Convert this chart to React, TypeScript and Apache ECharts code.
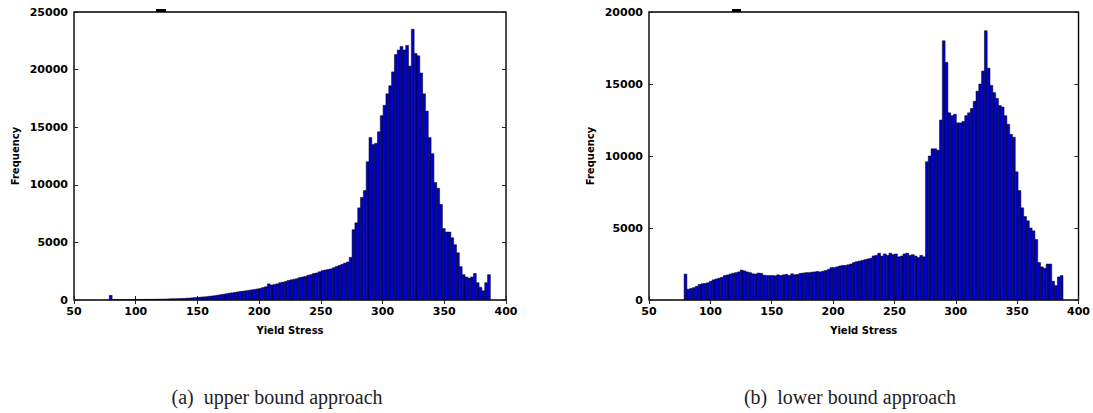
import React, { useEffect, useRef } from "react";
import * as echarts from "echarts";

// Histogram bins (Yield Stress), shared by both panels
const BIN_START = 78.6;
const BIN_WIDTH = 2.287;

// (a) upper bound approach — frequency per bin
const upperCounts: number[] = [
  400,
  30, 30, 35, 35, 40, 40, 40, 45, 45, 50, 50, 55, 55, 60, 60, 65, 70, 75, 80, 90,
  100, 110, 110, 120, 130, 140, 160, 170, 190, 210,
  220, 250, 270, 290, 320, 350, 380, 420, 460, 500,
  540, 590, 620, 660, 700, 740, 770, 800, 840, 880,
  920, 960, 1000, 1080, 1150, 1400, 1300, 1350, 1400, 1500,
  1550, 1600, 1700, 1750, 1800, 1850, 1950, 2000, 2050, 2150,
  2200, 2300, 2350, 2450, 2550, 2600, 2650, 2700, 2800, 2900,
  3000, 3100, 3200, 3300, 3700,
  6100, 6700, 8000, 8900, 9500, 12000, 14100, 13500, 13600, 14600, 16000, 16900, 17900, 18600, 19800, 21300, 21700, 22000, 21700, 22100, 20300,
  23500,
  21400, 21200, 19700, 17900, 16400, 14100, 12700, 10200, 9700, 8300, 6200, 5900, 5900, 5400, 4800, 4100, 2900, 2200, 2000, 1900, 2000, 2300, 1500, 1100, 800, 1500, 2200,
];

// (b) lower bound approach — frequency per bin
const lowerCounts: number[] = [
  1800,
  750, 800, 860, 950, 1080, 1130, 1150, 1200, 1300, 1400,
  1460, 1520, 1580, 1700, 1740, 1800, 1860, 1900, 1950, 2080,
  2020, 1950, 1900, 1820, 1800, 1870, 1850, 1720, 1700, 1700,
  1700, 1680, 1750, 1700, 1750, 1780, 1700, 1820, 1750, 1780,
  1850, 1870,
  1900, 1900, 1930, 1950, 1980, 1950, 2000, 2050, 2130, 2250,
  2250, 2300, 2360, 2400, 2400, 2450, 2500, 2600, 2660, 2700,
  2750, 2800, 2850, 2900, 3060, 3100, 3250, 3050, 3200, 3100,
  3250, 3150, 3200, 3000, 3050, 3200, 3250, 3100, 3150, 3050,
  2950, 3100, 3000,
  9600, 10000, 10500, 10500, 10400, 12500,
  18000,
  16500, 13000, 12800, 12900, 12300, 12300, 12400, 12800, 13000, 13300, 13800, 14500, 15000, 15900,
  18700,
  16100, 14900, 14400, 14000, 13500, 13400, 12800, 12200, 11500, 11300, 8900, 7600, 6400, 5800, 5500, 5000, 4800, 4200, 2600, 2300, 2200, 2500, 2500, 1300, 1000, 1600, 1700,
];

const X_MIN = 50;
const X_MAX = 400;
const X_INTERVAL = 50;
const UPPER_Y_MAX = 25000;
const LOWER_Y_MAX = 20000;
const Y_INTERVAL = 5000;

const X_NAME = "Yield Stress";
const Y_NAME = "Frequency";
const CAPTION_A = "(a)  upper bound approach";
const CAPTION_B = "(b)  lower bound approach";

const toBins = (counts: number[]) =>
  counts.map((c, i) => [BIN_START + i * BIN_WIDTH, BIN_START + (i + 1) * BIN_WIDTH, c]);

const FONT = "DejaVu Sans";

export default function App() {
  const ref = useRef<HTMLDivElement>(null);

  useEffect(() => {
    if (!ref.current) return;
    const chart = echarts.init(ref.current, null, { renderer: "svg" });

    const gridBase = { top: 12, width: 432, height: 288, show: true, borderColor: "#000", borderWidth: 1.4, backgroundColor: "transparent" };
    const grids = [
      { ...gridBase, left: 74 },
      { ...gridBase, left: 649 },
    ];

    const plain = (v: number) => String(v);
    const tickLabel = { fontFamily: FONT, fontWeight: "bold", fontSize: 11, color: "#000", formatter: plain } as any;
    const nameStyle = { fontFamily: FONT, fontWeight: "bold", fontSize: 10, color: "#000" } as any;
    const noLine = { show: false };
    const innerTick = { show: true, inside: true, length: 4, lineStyle: { color: "#222", width: 1 } };

    const xAxes: any[] = [];
    const yAxes: any[] = [];
    [0, 1].forEach((g) => {
      xAxes.push({
        type: "value", gridIndex: g, position: "bottom", min: X_MIN, max: X_MAX, interval: X_INTERVAL,
        name: X_NAME, nameLocation: "middle", nameGap: 25, nameTextStyle: nameStyle,
        axisLine: noLine, axisTick: innerTick, splitLine: { show: false },
        axisLabel: { ...tickLabel, margin: 6 },
      });
      xAxes.push({
        type: "value", gridIndex: g, position: "top", min: X_MIN, max: X_MAX, interval: X_INTERVAL,
        axisLine: noLine, axisTick: innerTick, splitLine: { show: false },
        axisLabel: { show: false },
      });
      const ymax = g === 0 ? UPPER_Y_MAX : LOWER_Y_MAX;
      yAxes.push({
        type: "value", gridIndex: g, position: "left", min: 0, max: ymax, interval: Y_INTERVAL,
        name: Y_NAME, nameLocation: "middle", nameGap: 54, nameTextStyle: nameStyle,
        axisLine: noLine, axisTick: innerTick, splitLine: { show: false },
        axisLabel: { ...tickLabel, margin: 6 },
      });
      yAxes.push({
        type: "value", gridIndex: g, position: "right", min: 0, max: ymax, interval: Y_INTERVAL,
        axisLine: noLine, axisTick: innerTick, splitLine: { show: false },
        axisLabel: { show: false },
      });
    });

    const renderItem = (params: any, api: any) => {
      const x0 = api.value(0);
      const x1 = api.value(1);
      const h = api.value(2);
      const p0 = api.coord([x0, 0]);
      const p1 = api.coord([x1, h]);
      return {
        type: "rect",
        shape: { x: p0[0], y: p1[1], width: p1[0] - p0[0], height: p0[1] - p1[1] },
        style: { fill: "#0000cc", stroke: "#000", lineWidth: 0.5 },
      };
    };

    chart.setOption({
      animation: false,
      backgroundColor: "#fff",
      grid: grids,
      xAxis: xAxes,
      yAxis: yAxes,
      series: [
        {
          type: "custom", xAxisIndex: 0, yAxisIndex: 0, renderItem,
          encode: { x: [0, 1], y: 2 }, data: toBins(upperCounts), clip: true,
        },
        {
          type: "custom", xAxisIndex: 2, yAxisIndex: 2, renderItem,
          encode: { x: [0, 1], y: 2 }, data: toBins(lowerCounts), clip: true,
        },
      ],
      graphic: [
        { type: "rect", left: 156, top: 9, shape: { width: 10, height: 3 }, style: { fill: "#000" } },
        { type: "rect", left: 732, top: 9, shape: { width: 9, height: 3 }, style: { fill: "#000" } },
        {
          type: "text", x: 277, y: 397,
          style: { text: CAPTION_A, fontFamily: "Liberation Serif", fontSize: 20, fill: "#222", align: "center", verticalAlign: "middle" },
        },
        {
          type: "text", x: 850, y: 397,
          style: { text: CAPTION_B, fontFamily: "Liberation Serif", fontSize: 20, fill: "#222", align: "center", verticalAlign: "middle" },
        },
      ],
    });

    return () => chart.dispose();
  }, []);

  return (
    <div
      ref={ref}
      style={{ position: "fixed", left: 0, top: 0, width: 1093, height: 413, background: "#fff" }}
    />
  );
}
